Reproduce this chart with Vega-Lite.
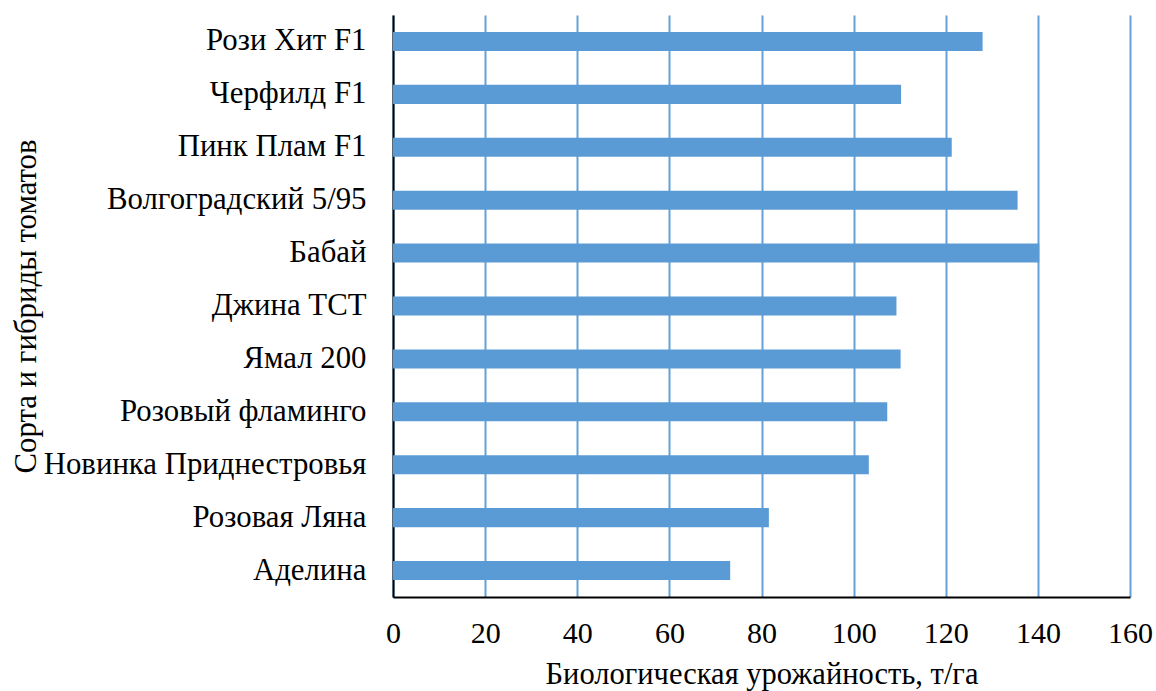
{
  "$schema": "https://vega.github.io/schema/vega-lite/v6.json",
  "width": 737,
  "height": 582,
  "autosize": "none",
  "padding": {"left": 393, "top": 15, "right": 26, "bottom": 94},
  "background": "white",
  "data": {
    "values": [
      {"sort": "Рози Хит F1", "yield": 128.0},
      {"sort": "Черфилд F1", "yield": 110.3},
      {"sort": "Пинк Плам F1", "yield": 121.3},
      {"sort": "Волгоградский 5/95", "yield": 135.6},
      {"sort": "Бабай", "yield": 140.3},
      {"sort": "Джина ТСТ", "yield": 109.3},
      {"sort": "Ямал 200", "yield": 110.2},
      {"sort": "Розовый фламинго", "yield": 107.3},
      {"sort": "Новинка Приднестровья", "yield": 103.3},
      {"sort": "Розовая Ляна", "yield": 81.6},
      {"sort": "Аделина", "yield": 73.2}
    ]
  },
  "config": {
    "view": {"stroke": null},
    "font": "Liberation Serif"
  },
  "mark": {"type": "bar", "color": "#5b9bd5"},
  "encoding": {
    "y": {
      "field": "sort",
      "type": "nominal",
      "sort": null,
      "scale": {"paddingInner": 0.64, "paddingOuter": 0.32},
      "axis": {
        "title": "Сорта и гибриды томатов",
        "labelFont": "Liberation Serif",
        "labelFontSize": 30.8,
        "labelColor": "#000000",
        "titleFont": "Liberation Serif",
        "titleFontSize": 30.8,
        "titleFontWeight": "normal",
        "titleColor": "#000000",
        "ticks": false,
        "labelPadding": 27,
        "labelLimit": 400,
        "domainColor": "#000000",
        "domainWidth": 2,
        "titleX": -367,
        "titleBaseline": "middle",
        "titleAngle": -90
      }
    },
    "x": {
      "field": "yield",
      "type": "quantitative",
      "scale": {"domain": [0, 160], "nice": false},
      "axis": {
        "title": "Биологическая урожайность, т/га",
        "labelFont": "Liberation Serif",
        "labelFontSize": 30,
        "labelColor": "#000000",
        "labelFlush": false,
        "titleFont": "Liberation Serif",
        "titleFontSize": 30.5,
        "titleFontWeight": "normal",
        "titleColor": "#000000",
        "titleBaseline": "top",
        "titleY": 62,
        "values": [0, 20, 40, 60, 80, 100, 120, 140, 160],
        "grid": true,
        "gridColor": "#5b9bd5",
        "gridWidth": 2,
        "gridOpacity": 0.95,
        "ticks": false,
        "labelPadding": 21,
        "domainColor": "#000000",
        "domainWidth": 2
      }
    }
  }
}
